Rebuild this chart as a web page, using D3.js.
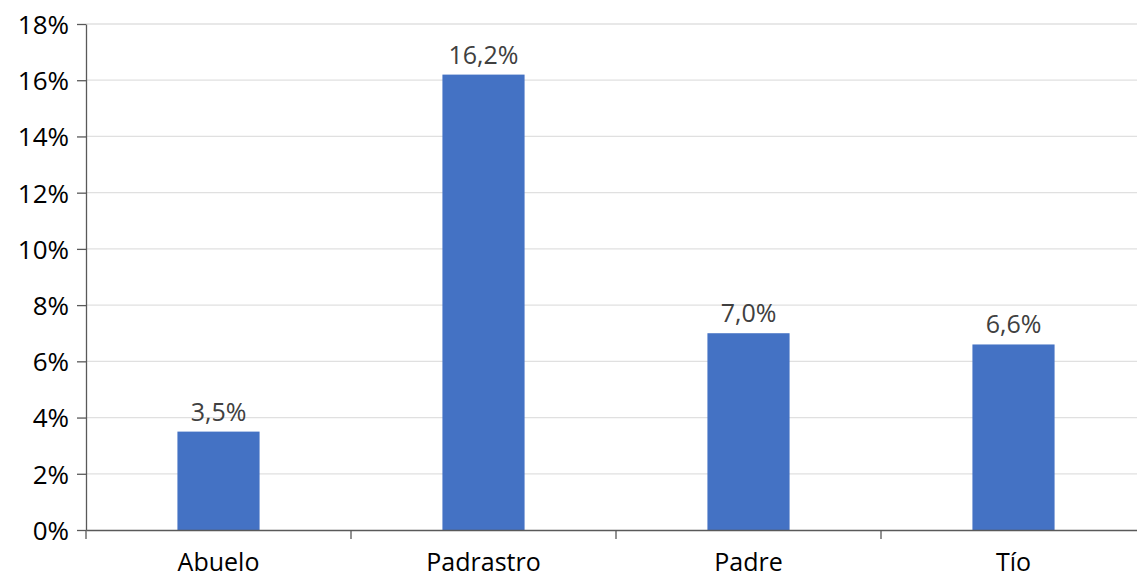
<!DOCTYPE html>
<html><head><meta charset="utf-8">
<script src="https://cdn.jsdelivr.net/npm/d3@7"></script>
<style>body{margin:0;background:#fff}svg{display:block}</style>
</head><body>
<svg id="c" width="1137" height="578"></svg>
<script>
const categories = ["Abuelo","Padrastro","Padre","Tío"];
const values = [3.5,16.2,7.0,6.6];
const labels = ["3,5%","16,2%","7,0%","6,6%"];
const yTicks = [0,2,4,6,8,10,12,14,16,18];

const svg = d3.select("#c");
const mLeft = 86, mRight = 1146, mTop = 24, mBottom = 530;
const font = "'Open Sans', sans-serif";

const x = d3.scaleBand().domain(categories).range([mLeft,mRight]).paddingInner(0.69).paddingOuter(0.345);
const xb = d3.scaleBand().domain(categories).range([mLeft,mRight]);
const y = d3.scaleLinear().domain([0,18]).range([mBottom,mTop]);

svg.append("g").selectAll("line").data(yTicks.slice(1)).join("line")
  .attr("x1",mLeft).attr("x2",mRight).attr("y1",d=>y(d)).attr("y2",d=>y(d))
  .attr("stroke","#e0e0e0").attr("stroke-width",1.3);

svg.append("g").selectAll("rect").data(values).join("rect")
  .attr("x",(d,i)=>x(categories[i])).attr("width",x.bandwidth())
  .attr("y",d=>y(d)).attr("height",d=>mBottom-y(d)).attr("fill","#4472C4");

svg.append("g").selectAll("text").data(values).join("text")
  .attr("x",(d,i)=>x(categories[i])+x.bandwidth()/2).attr("y",d=>y(d)-11)
  .attr("text-anchor","middle").attr("font-family",font).attr("font-size",25)
  .attr("fill","#404040").text((d,i)=>labels[i]);

const ya = svg.append("g").attr("transform",`translate(${mLeft},0)`)
  .call(d3.axisLeft(y).tickValues(yTicks).tickFormat(d=>d+"%").tickSize(9).tickSizeOuter(0));
ya.select(".domain").attr("stroke","#595959").attr("stroke-width",1.3);
ya.selectAll(".tick line").attr("stroke","#595959").attr("stroke-width",1.3);
ya.selectAll("text").attr("font-family",font).attr("font-size",26).attr("fill","#000").attr("dx","-5").attr("dy","0.36em");

const xa = svg.append("g").attr("transform",`translate(0,${mBottom})`)
  .call(d3.axisBottom(xb).tickSize(0).tickSizeOuter(0));
xa.select(".domain").attr("stroke","#595959").attr("stroke-width",1.3);
xa.selectAll("text").attr("font-family",font).attr("font-size",25).attr("fill","#000").attr("dy","1.5em");
xa.selectAll(".tick line").remove();
svg.append("g").selectAll("line").data(categories).join("line")
  .attr("x1",d=>xb(d)).attr("x2",d=>xb(d)).attr("y1",mBottom).attr("y2",mBottom+9)
  .attr("stroke","#595959").attr("stroke-width",1.3);
</script>
</body></html>
